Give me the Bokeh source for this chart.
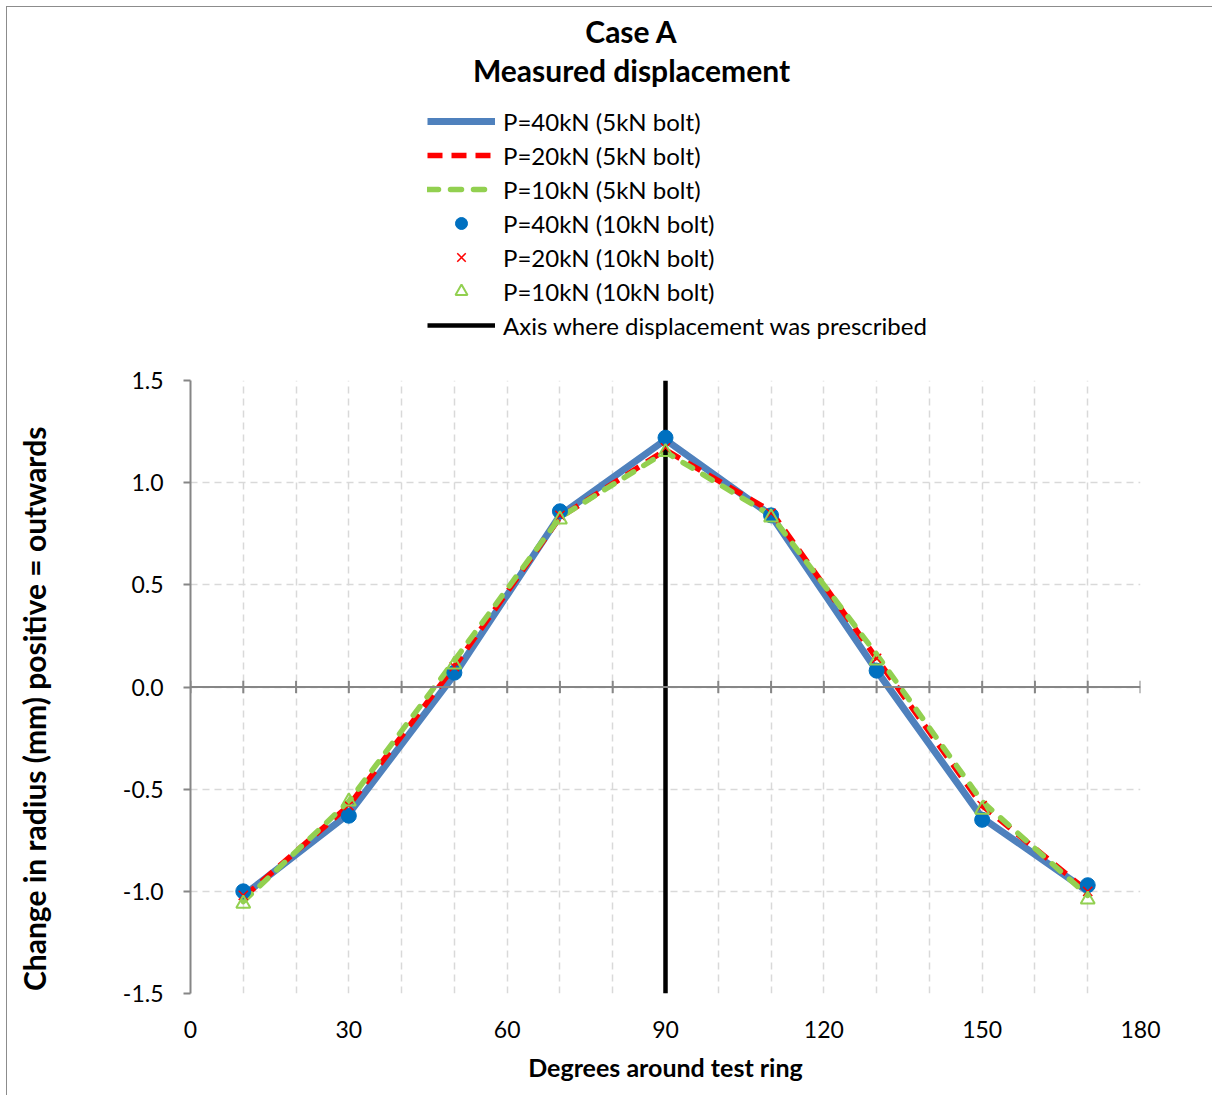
from bokeh.plotting import figure
from bokeh.layouts import column
from bokeh.models import (Legend, LegendItem, Span, Label, FixedTicker,
                          PrintfTickFormatter)
from bokeh.embed import file_html
from bokeh.resources import INLINE

# ---------------- data ----------------
degrees = [10, 30, 50, 70, 90, 110, 130, 150, 170]

p40_5kN = [-1.02, -0.62, 0.06, 0.84, 1.21, 0.84, 0.08, -0.64, -1.00]
p20_5kN = [-1.03, -0.58, 0.10, 0.83, 1.16, 0.86, 0.14, -0.58, -1.00]
p10_5kN = [-1.05, -0.56, 0.13, 0.83, 1.15, 0.84, 0.16, -0.56, -1.02]

p40_10kN = [-1.00, -0.63, 0.07, 0.86, 1.22, 0.84, 0.08, -0.65, -0.97]
p20_10kN = [-1.02, -0.58, 0.10, 0.84, 1.17, 0.85, 0.14, -0.58, -1.00]
p10_10kN = [-1.06, -0.56, 0.11, 0.82, 1.15, 0.83, 0.13, -0.60, -1.04]

prescribed_x = [90, 90]
prescribed_y = [-1.5, 1.5]

x_labels = [0, 30, 60, 90, 120, 150, 180]
x_grid = list(range(0, 181, 10))
y_ticks = [-1.5, -1.0, -0.5, 0.0, 0.5, 1.0, 1.5]

title_lines = ["Case A", "Measured displacement"]
series_names = ["P=40kN (5kN bolt)", "P=20kN (5kN bolt)", "P=10kN (5kN bolt)",
                "P=40kN (10kN bolt)", "P=20kN (10kN bolt)", "P=10kN (10kN bolt)",
                "Axis where displacement was prescribed"]
y_title = "Change in radius (mm) positive = outwards"

FONT = "Lato"
AX = "#868686"

STYLE = {
    "l1": dict(line_color="#4F81BD", line_width=7),
    "l2": dict(line_color="#FF0000", line_width=5.5, line_dash="15 9"),
    "l3": dict(line_color="#92D050", line_width=5.5, line_dash="11 12", line_cap="round"),
    "l7": dict(line_color="black", line_width=4.5),
    "m4": dict(marker="circle", size=15, fill_color="#0070C0", line_color="#0070C0"),
    "m5": dict(marker="x", size=13, line_color="#FF0000", line_width=1.5),
    "m6": dict(marker="triangle", size=14, fill_alpha=0, line_color="#92D050", line_width=2),
}

W = 1205
FL, FR = 183, 72          # frame borders shared by both stacked figures
TOP_H = 353

# ---------------- header figure (titles + legend) ----------------
top = figure(width=W, height=TOP_H, x_range=(FL, W - FR), y_range=(0, TOP_H),
             output_backend="svg", toolbar_location=None,
             x_axis_location=None, y_axis_location=None,
             min_border_left=FL, min_border_right=FR,
             min_border_top=0, min_border_bottom=0)
top.grid.visible = False
top.outline_line_color = None

# legend proxies (their data lies outside the header's ranges; only swatches show)
d1 = top.line(degrees, p40_5kN, **STYLE["l1"])
d2 = top.line(degrees, p20_5kN, **STYLE["l2"])
d3 = top.line(degrees, p10_5kN, **STYLE["l3"])
d4 = top.scatter(degrees, p40_10kN, **STYLE["m4"])
d5 = top.scatter(degrees, p20_10kN, **STYLE["m5"])
d6 = top.scatter(degrees, p10_10kN, **STYLE["m6"])
d7 = top.line(prescribed_x, prescribed_y, **STYLE["l7"])

items = [LegendItem(label=n, renderers=[r]) for n, r in
         zip(series_names, [d1, d2, d3, d4, d5, d6, d7])]
legend = Legend(items=items, location=(237, 20), orientation="vertical",
                glyph_width=68, glyph_height=30, label_height=30, spacing=4,
                label_standoff=8, padding=0, margin=0,
                border_line_color=None, background_fill_alpha=0,
                label_text_font=FONT, label_text_font_size="24px",
                label_text_color="black", label_text_baseline="middle")
top.add_layout(legend, "center")

top.add_layout(Label(x=624, y=330, text=title_lines[0], text_align="center",
                     text_baseline="middle", text_font=FONT, text_font_style="bold",
                     text_font_size="30px", text_color="black"))
top.add_layout(Label(x=624, y=291, text=title_lines[1], text_align="center",
                     text_baseline="middle", text_font=FONT, text_font_style="bold",
                     text_font_size="30px", text_color="black"))

# ---------------- main chart ----------------
p = figure(width=W, height=735, x_range=(0, 180), y_range=(-1.5, 1.5),
           output_backend="svg", toolbar_location=None,
           min_border_left=FL, min_border_right=FR,
           min_border_top=20, min_border_bottom=102)
p.outline_line_color = None

p.xgrid.ticker = FixedTicker(ticks=x_grid)
p.ygrid.ticker = FixedTicker(ticks=y_ticks)
for g in (p.xgrid, p.ygrid):
    g.grid_line_color = "#D9D9D9"
    g.grid_line_dash = "7 5"
    g.grid_line_width = 1.5

xa = p.xaxis[0]
xa.ticker = FixedTicker(ticks=x_labels)
xa.axis_line_color = None
xa.major_tick_line_color = None
xa.minor_tick_line_color = None
xa.major_label_standoff = 21
xa.major_label_text_font = FONT
xa.major_label_text_font_size = "23px"
xa.major_label_text_color = "black"
xa.axis_label = "Degrees around test ring"
xa.axis_label_text_font = FONT
xa.axis_label_text_font_style = "bold"
xa.axis_label_text_font_size = "25px"
xa.axis_label_text_color = "black"
xa.axis_label_standoff = 11

ya = p.yaxis[0]
ya.ticker = FixedTicker(ticks=y_ticks)
ya.formatter = PrintfTickFormatter(format="%.1f")
ya.axis_line_color = AX
ya.axis_line_width = 2
ya.major_tick_line_color = AX
ya.major_tick_line_width = 2
ya.major_tick_out = 7
ya.major_tick_in = 0
ya.minor_tick_line_color = None
ya.major_label_standoff = 20
ya.major_label_text_font = FONT
ya.major_label_text_font_size = "23px"
ya.major_label_text_color = "black"
ya.axis_label = y_title + "\u00a0" * 6
ya.axis_label_text_font = FONT
ya.axis_label_text_font_style = "bold"
ya.axis_label_text_font_size = "30px"
ya.axis_label_text_color = "black"
ya.axis_label_standoff = 68

p.add_layout(Span(location=0, dimension="width", line_color=AX, line_width=2))
p.segment(x0=x_grid, y0=[-0.03] * len(x_grid), x1=x_grid, y1=[0.03] * len(x_grid),
          line_color=AX, line_width=2)

p.line(degrees, p40_5kN, **STYLE["l1"])
p.line(degrees, p20_5kN, **STYLE["l2"])
p.line(degrees, p10_5kN, **STYLE["l3"])
p.line(prescribed_x, prescribed_y, **STYLE["l7"])
p.scatter(degrees, p40_10kN, **STYLE["m4"])
p.scatter(degrees, p20_10kN, **STYLE["m5"])
p.scatter(degrees, p10_10kN, **STYLE["m6"])

layout = column(top, p, spacing=0)
layout.styles = {"margin-left": "6px", "margin-top": "6px",
                 "border-left": "1px solid #8c8c8c", "border-top": "1px solid #8c8c8c"}

open("out.html", "w").write(file_html(layout, INLINE))
